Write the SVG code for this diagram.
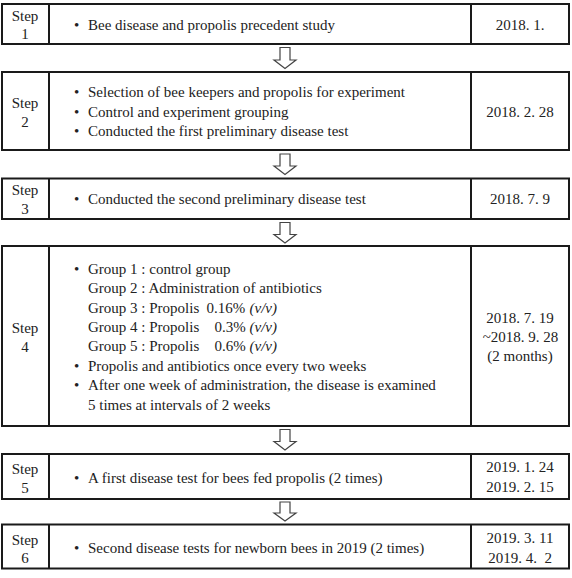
<svg xmlns="http://www.w3.org/2000/svg" width="572" height="578" viewBox="0 0 572 578">
<style>
.box{fill:#fff;stroke:#1a1a1a;stroke-width:2}
.div{stroke:#1a1a1a;stroke-width:2}
text{font-size:15px;fill:#222}
.c{text-anchor:middle}
.arr{fill:#fff;stroke:#444;stroke-width:1.2;stroke-linejoin:miter}
</style>
<rect width="572" height="578" fill="#fff"/>
<g font-family="'Liberation Serif', 'DejaVu Serif', serif">
<g id="step1">
<rect class="box" x="2" y="4" width="567" height="40"/>
<line class="div" x1="49" y1="4" x2="49" y2="44"/>
<line class="div" x1="471" y1="4" x2="471" y2="44"/>
<text class="c" x="25" y="20.5">Step</text>
<text class="c" x="25" y="38.5">1</text>
<text x="74" y="29.5">•</text>
<text x="88" y="29.5">Bee disease and propolis precedent study</text>
<text class="c" x="520" y="29.5">2018. 1.</text>
</g>
<g id="step2">
<rect class="box" x="2" y="72" width="567" height="78"/>
<line class="div" x1="49" y1="72" x2="49" y2="150"/>
<line class="div" x1="471" y1="72" x2="471" y2="150"/>
<text class="c" x="25" y="107.5">Step</text>
<text class="c" x="25" y="126.5">2</text>
<text x="74" y="97">•</text>
<text x="88" y="97">Selection of bee keepers and propolis for experiment</text>
<text x="74" y="116.5">•</text>
<text x="88" y="116.5">Control and experiment grouping</text>
<text x="74" y="136">•</text>
<text x="88" y="136">Conducted the first preliminary disease test</text>
<text class="c" x="520" y="116.5">2018. 2. 28</text>
</g>
<g id="step3">
<rect class="box" x="2" y="178.5" width="567" height="40.5"/>
<line class="div" x1="49" y1="178.5" x2="49" y2="219"/>
<line class="div" x1="471" y1="178.5" x2="471" y2="219"/>
<text class="c" x="25" y="195">Step</text>
<text class="c" x="25" y="213.5">3</text>
<text x="74" y="203.5">•</text>
<text x="88" y="203.5">Conducted the second preliminary disease test</text>
<text class="c" x="520" y="203.5">2018. 7. 9</text>
</g>
<g id="step4">
<rect class="box" x="2" y="246" width="567" height="180"/>
<line class="div" x1="49" y1="246" x2="49" y2="426"/>
<line class="div" x1="471" y1="246" x2="471" y2="426"/>
<text class="c" x="25" y="333">Step</text>
<text class="c" x="25" y="351.5">4</text>
<text x="74" y="273.5">•</text>
<text x="88" y="273.5">Group 1 : control group</text>
<text x="88" y="293">Group 2 : Administration of antibiotics</text>
<text x="88" y="312.5">Group 3 : Propolis</text>
<text x="206.5" y="312.5">0.16%</text>
<text x="249.5" y="312.5" font-style="italic">(v/v)</text>
<text x="88" y="332">Group 4 : Propolis</text>
<text x="214.5" y="332">0.3%</text>
<text x="249.5" y="332" font-style="italic">(v/v)</text>
<text x="88" y="351">Group 5 : Propolis</text>
<text x="214.5" y="351">0.6%</text>
<text x="249.5" y="351" font-style="italic">(v/v)</text>
<text x="74" y="370.5">•</text>
<text x="88" y="370.5">Propolis and antibiotics once every two weeks</text>
<text x="74" y="390">•</text>
<text x="88" y="390">After one week of administration, the disease is examined</text>
<text x="88" y="409.5">5 times at intervals of 2 weeks</text>
<text class="c" x="520" y="323">2018. 7. 19</text>
<text class="c" x="520.5" y="342">~2018. 9. 28</text>
<text class="c" x="520" y="361">(2 months)</text>
</g>
<g id="step5">
<rect class="box" x="2" y="454" width="567" height="45"/>
<line class="div" x1="49" y1="454" x2="49" y2="499"/>
<line class="div" x1="471" y1="454" x2="471" y2="499"/>
<text class="c" x="25" y="474">Step</text>
<text class="c" x="25" y="492.5">5</text>
<text x="74" y="482.5">•</text>
<text x="88" y="482.5">A first disease test for bees fed propolis (2 times)</text>
<text class="c" x="520" y="472">2019. 1. 24</text>
<text class="c" x="520" y="492">2019. 2. 15</text>
</g>
<g id="step6">
<rect class="box" x="2" y="524.5" width="567" height="44"/>
<line class="div" x1="49" y1="524.5" x2="49" y2="568.5"/>
<line class="div" x1="471" y1="524.5" x2="471" y2="568.5"/>
<text class="c" x="25" y="544.5">Step</text>
<text class="c" x="25" y="563">6</text>
<text x="74" y="553">•</text>
<text x="88" y="553">Second disease tests for newborn bees in 2019 (2 times)</text>
<text class="c" x="520" y="542.5">2019. 3. 11</text>
<text class="c" x="520" y="562.5" xml:space="preserve">2019. 4.  2</text>
</g>
</g>
<g id="connectors">
<polygon class="arr" points="280,47.5 290,47.5 290,60 296,60 285,68.5 274,60 280,60"/>
<polygon class="arr" points="280,154 290,154 290,166 296,166 285,174.5 274,166 280,166"/>
<polygon class="arr" points="280,222.5 290,222.5 290,234.5 296,234.5 285,243 274,234.5 280,234.5"/>
<polygon class="arr" points="280,429.5 290,429.5 290,441.5 296,441.5 285,450 274,441.5 280,441.5"/>
<polygon class="arr" points="280,502 290,502 290,513 296,513 285,521 274,513 280,513"/>
</g>
</svg>
